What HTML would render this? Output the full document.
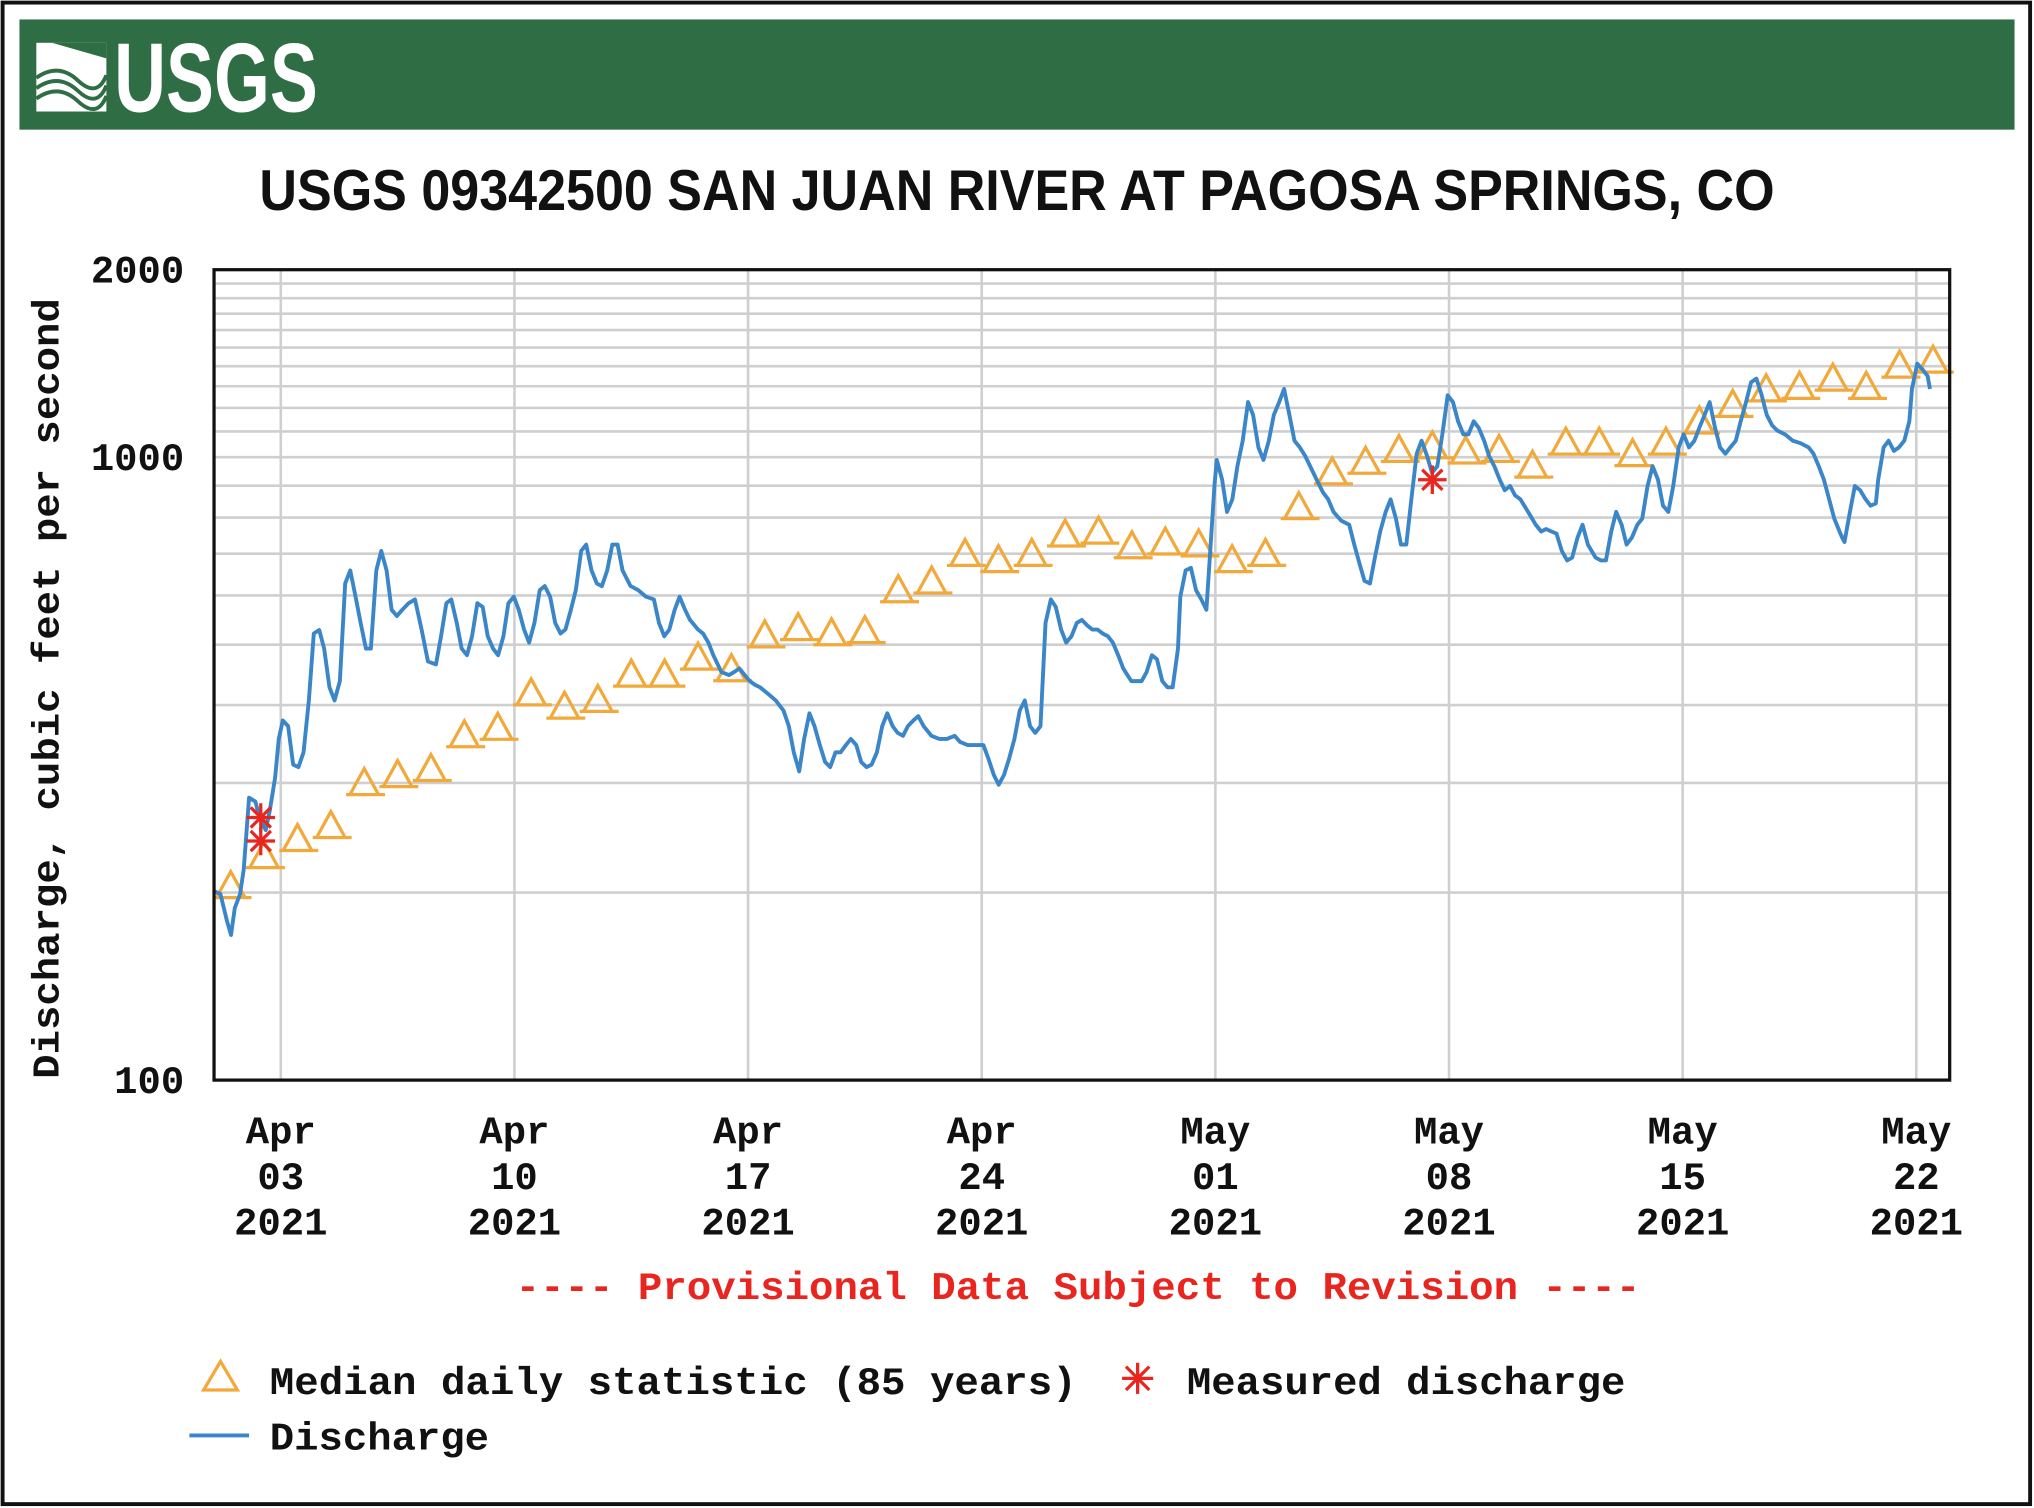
<!DOCTYPE html>
<html><head><meta charset="utf-8"><style>
html,body{margin:0;padding:0;background:#fff;}
svg{display:block;}
.mono{font-family:"Liberation Mono","DejaVu Sans Mono",monospace;font-weight:bold;}
</style></head><body>
<svg id="chart" width="2034" height="1508" viewBox="0 0 1568 1163" preserveAspectRatio="none" xmlns="http://www.w3.org/2000/svg">
<rect x="2" y="2" width="1563" height="1158" fill="#fff" stroke="#111" stroke-width="3"/>
<rect x="15" y="15" width="1538" height="85" fill="#2f6e44"/>
<g>
<rect x="28" y="33" width="54" height="53" fill="#fff"/>
<path d="M28 60 Q45 48 60 62 T82 58" stroke="#2f6e44" stroke-width="3" fill="none"/>
<path d="M28 68 Q45 56 60 70 T82 66" stroke="#2f6e44" stroke-width="3" fill="none"/>
<path d="M28 76 Q45 64 60 78 T82 74" stroke="#2f6e44" stroke-width="3" fill="none"/>
<path d="M40 33 L82 33 L82 45 Z" fill="#2f6e44"/>
</g>
<text x="88" y="86" font-family="'Liberation Sans Narrow','Liberation Sans',sans-serif" font-weight="bold" font-size="76" fill="#fff" textLength="157" lengthAdjust="spacingAndGlyphs">USGS</text>
<text x="784" y="162" text-anchor="middle" font-family="'Liberation Sans Narrow','Liberation Sans',sans-serif" font-weight="bold" font-size="44" fill="#111" textLength="1168" lengthAdjust="spacingAndGlyphs">USGS 09342500 SAN JUAN RIVER AT PAGOSA SPRINGS, CO</text>
<g id="grid"></g>
<g id="marks"></g>
<rect x="165" y="208" width="1338" height="625" fill="none" stroke="#111" stroke-width="2.5"/>
<g id="axes"></g>
<text class="mono" transform="translate(45,531) rotate(-90)" text-anchor="middle" font-size="29" fill="#111" textLength="602" lengthAdjust="spacingAndGlyphs">Discharge, cubic feet per second</text>
<text class="mono" x="831" y="1002" text-anchor="middle" font-size="30" fill="#e8261f" textLength="867" lengthAdjust="spacingAndGlyphs">---- Provisional Data Subject to Revision ----</text>
<g>
<g>
<path d="M157 1072 L170 1050 L183 1072 Z" fill="none" stroke="#f2a93b" stroke-width="2.5"/>
<text class="mono" x="208" y="1075" font-size="30" fill="#111" textLength="622" lengthAdjust="spacingAndGlyphs">Median daily statistic (85 years)</text>
</g>
<g>
<g stroke="#e8261f" stroke-width="2.5"><line x1="865" y1="1063" x2="889" y2="1063"/><line x1="877" y1="1051" x2="877" y2="1075"/><line x1="868" y1="1054" x2="886" y2="1072"/><line x1="886" y1="1054" x2="868" y2="1072"/></g>
<text class="mono" x="915" y="1075" font-size="30" fill="#111" textLength="338" lengthAdjust="spacingAndGlyphs">Measured discharge</text>
</g>
<g>
<line x1="146" y1="1107" x2="192" y2="1107" stroke="#3a86c8" stroke-width="3"/>
<text class="mono" x="208" y="1118" font-size="30" fill="#111" textLength="169" lengthAdjust="spacingAndGlyphs">Discharge</text>
</g>
</g>
</svg>
<script>
// ---- data ----
const yTickValues = [100, 1000, 2000];
const yTickLabels = ["100", "1000", "2000"];
const yGridValues = [200,300,400,500,600,700,800,900,1000,1100,1200,1300,1400,1500,1600,1700,1800,1900];
const xTickDays = [2, 9, 16, 23, 30, 37, 44, 51];
const xTickMonth = ["Apr","Apr","Apr","Apr","May","May","May","May"];
const xTickDay = ["03","10","17","24","01","08","15","22"];
const xTickYear = ["2021","2021","2021","2021","2021","2021","2021","2021"];
const medianValues = [205,229,244,256,300,309,316,358,368,418,398,408,448,448,477,457,518,532,522,526,612,632,700,684,700,752,760,720,730,725,684,700,832,946,984,1028,1042,1022,1028,970,1056,1056,1012,1056,1142,1214,1286,1298,1338,1298,1404,1430];
const measuredDays = [1.40, 1.40, 36.5];
const measuredValues = [264, 242, 920];
const flowDays = [0.00,0.19,0.39,0.51,0.62,0.78,0.89,1.05,1.24,1.36,1.55,1.67,1.83,1.94,2.06,2.22,2.37,2.53,2.68,2.84,2.99,3.15,3.30,3.46,3.61,3.77,3.93,4.08,4.24,4.39,4.55,4.70,4.86,5.01,5.17,5.32,5.48,5.64,5.83,6.02,6.22,6.41,6.65,6.80,6.96,7.11,7.27,7.42,7.58,7.73,7.89,8.05,8.20,8.36,8.51,8.67,8.82,8.98,9.13,9.29,9.44,9.60,9.76,9.91,10.07,10.22,10.38,10.53,10.69,10.84,11.00,11.15,11.31,11.47,11.62,11.78,11.93,12.09,12.24,12.48,12.71,12.94,13.18,13.33,13.49,13.64,13.80,13.95,14.11,14.26,14.50,14.65,14.81,14.96,15.20,15.43,15.58,15.74,15.90,16.05,16.21,16.36,16.60,16.83,17.06,17.22,17.37,17.53,17.68,17.84,17.99,18.15,18.31,18.46,18.62,18.77,18.93,19.08,19.24,19.39,19.55,19.70,19.86,20.02,20.17,20.33,20.48,20.64,20.79,20.95,21.10,21.26,21.49,21.73,21.96,22.19,22.35,22.58,22.81,23.05,23.20,23.36,23.51,23.67,23.82,23.98,24.14,24.29,24.45,24.60,24.76,24.91,25.07,25.22,25.38,25.53,25.69,25.85,26.00,26.16,26.31,26.47,26.62,26.78,26.93,27.09,27.24,27.48,27.79,27.94,28.10,28.25,28.41,28.57,28.72,28.88,28.95,29.11,29.27,29.42,29.58,29.73,29.81,29.97,30.04,30.20,30.35,30.51,30.66,30.82,30.98,31.13,31.29,31.44,31.60,31.75,31.91,32.06,32.22,32.37,32.53,32.69,32.84,33.07,33.23,33.38,33.54,33.77,34.01,34.16,34.32,34.47,34.63,34.78,34.94,35.10,35.25,35.41,35.56,35.72,35.87,36.03,36.18,36.34,36.49,36.65,36.80,36.96,37.12,37.27,37.43,37.58,37.74,37.89,38.05,38.20,38.36,38.52,38.67,38.83,38.98,39.14,39.37,39.60,39.76,39.91,40.07,40.22,40.38,40.54,40.69,40.85,41.00,41.16,41.39,41.55,41.70,41.86,42.01,42.17,42.32,42.48,42.64,42.79,42.95,43.10,43.26,43.41,43.57,43.72,43.88,44.03,44.19,44.35,44.50,44.66,44.81,44.97,45.12,45.28,45.43,45.59,45.74,45.90,46.05,46.21,46.37,46.52,46.68,46.83,47.07,47.30,47.53,47.77,47.92,48.08,48.23,48.39,48.54,48.70,48.78,48.85,49.01,49.16,49.32,49.48,49.63,49.79,49.86,50.02,50.17,50.33,50.48,50.64,50.79,50.87,50.95,51.03,51.18,51.34,51.41];
const flowValues = [201,199,180,171,189,199,218,284,280,264,252,271,306,353,378,370,321,318,336,407,521,528,493,427,407,437,627,658,597,542,493,493,658,707,658,569,556,569,583,591,529,470,465,516,583,591,542,493,481,516,583,575,516,493,481,516,583,597,569,529,504,542,612,621,597,542,521,529,569,612,707,724,658,627,621,658,724,724,658,621,612,597,591,542,516,529,569,597,569,548,529,521,504,481,452,447,452,458,447,437,431,427,417,407,392,370,336,313,353,388,370,345,324,318,336,336,345,353,345,324,318,321,336,370,388,370,361,357,370,378,384,370,357,353,353,357,349,345,345,345,328,309,298,309,328,353,392,407,370,361,370,542,591,575,529,504,516,542,548,537,529,529,521,516,504,481,458,437,437,452,481,474,437,427,427,493,597,658,664,612,591,569,658,899,990,921,817,856,967,1063,1226,1169,1037,990,1063,1169,1226,1287,1169,1063,1037,1005,967,912,877,856,817,791,779,724,674,633,627,690,760,817,856,797,724,724,856,1013,1063,1005,944,967,1088,1257,1226,1142,1088,1088,1142,1115,1063,1005,967,921,885,899,868,856,817,779,760,767,760,754,707,683,690,743,779,724,690,683,683,760,817,779,724,743,779,797,899,967,921,836,817,899,1037,1088,1037,1063,1115,1169,1226,1115,1037,1013,1037,1063,1142,1226,1319,1337,1257,1169,1125,1104,1088,1063,1053,1037,1013,967,921,856,797,760,743,731,817,899,885,856,836,843,921,1037,1063,1024,1037,1063,1142,1287,1350,1413,1385,1350,1287,1197];

// ---- axes ----
const PX0 = 165, PX1 = 1503, PY0 = 208, PY1 = 833, DAYS = 52, VMIN = 100, VMAX = 2000;
function xScale(d){ return PX0 + (PX1 - PX0) * d / DAYS; }
function yScale(v){ return PY1 - (PY1 - PY0) * Math.log(v / VMIN) / Math.log(VMAX / VMIN); }
const NS = "http://www.w3.org/2000/svg";
function mk(tag, attrs, parent){ const e = document.createElementNS(NS, tag); for (const k in attrs) e.setAttribute(k, attrs[k]); parent.appendChild(e); return e; }
const grid = document.getElementById('grid'), marks = document.getElementById('marks'), axes = document.getElementById('axes');

yGridValues.forEach(v => {
  const y = yScale(v);
  const l = mk('line', {x1: PX0, x2: PX1, y1: y, y2: y, stroke: '#cfcfcf', 'stroke-width': 2}, grid);
  
  
});
xTickDays.forEach(d => {
  const x = xScale(d);
  const l = mk('line', {x1: x, x2: x, y1: PY0, y2: PY1, stroke: '#cfcfcf', 'stroke-width': 2}, grid);
  
  
});
yTickValues.forEach((v, i) => {
  const t = mk('text', {x: 142, y: yScale(v) + 10, 'text-anchor': 'end', 'font-size': 30, fill: '#111', class: 'mono'}, axes);
  t.textContent = yTickLabels[i];
  
  
});
xTickDays.forEach((d, i) => {
  const x = xScale(d);
  [[xTickMonth[i], 882], [xTickDay[i], 917], [xTickYear[i], 952]].forEach(([s, y]) => {
    const t = mk('text', {x: x, y: y, 'text-anchor': 'middle', 'font-size': 30, fill: '#111', class: 'mono'}, axes);
    t.textContent = s;
    
    
  });
});

// ---- median triangles ----
medianValues.forEach((v, i) => {
  const x = xScale(i + 0.5), y = yScale(v);
  const g = mk('g', {fill: 'none', stroke: '#f2a93b', 'stroke-width': 2.5}, marks);
  
  
  mk('path', {d: `M${x-11} ${y+9} L${x} ${y-11} L${x+11} ${y+9}`}, g);
  mk('line', {x1: x - 14, x2: x + 16, y1: y + 9, y2: y + 9}, g);
});

// ---- discharge line ----
let d = '';
flowDays.forEach((t, i) => { d += (i ? 'L' : 'M') + xScale(t).toFixed(1) + ' ' + yScale(flowValues[i]).toFixed(1); });
const path = mk('path', {d: d, fill: 'none', stroke: '#3a86c8', 'stroke-width': 3, 'stroke-linejoin': 'round'}, marks);



// ---- measured asterisks ----
measuredDays.forEach((t, i) => {
  const x = xScale(t), y = yScale(measuredValues[i]), r = 11;
  const g = mk('g', {stroke: '#e8261f', 'stroke-width': 2.5}, marks);
  
  
  for (let k = 0; k < 4; k++) {
    const a = k * Math.PI / 4;
    mk('line', {x1: x - r*Math.cos(a), y1: y - r*Math.sin(a), x2: x + r*Math.cos(a), y2: y + r*Math.sin(a)}, g);
  }
});
</script>
</body></html>
